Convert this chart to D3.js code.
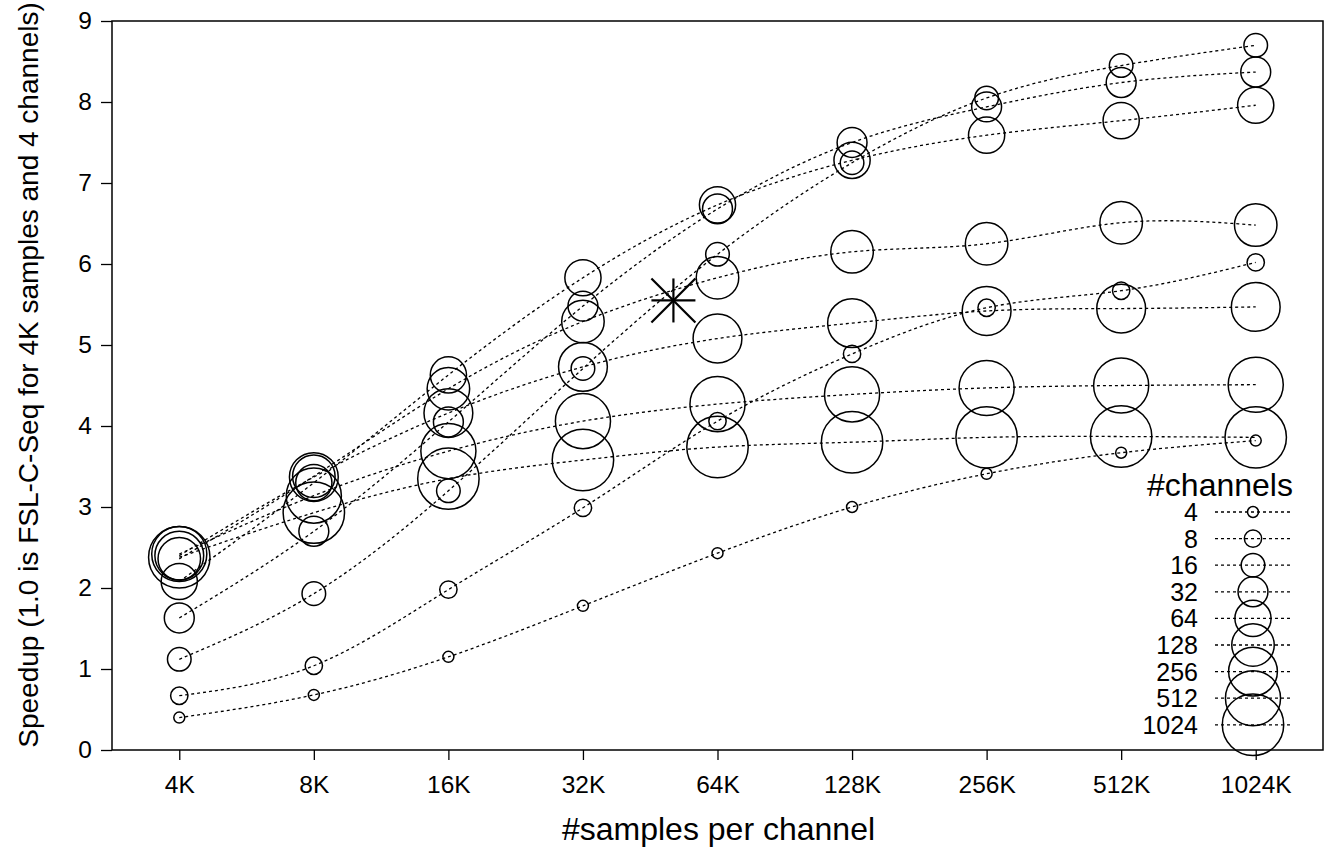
<!DOCTYPE html>
<head>
  <meta charset="utf-8">
  <title>Speedup vs samples per channel</title>
  <script src="https://d3js.org/d3.v7.min.js"></script>
  <style>
    body { margin:0; background:#fff; }
    svg { display:block; }
    text { font-family: "Liberation Sans", Arial, sans-serif; fill:#000; }
  </style>
</head>
<body>
  <svg width="1326" height="847"></svg>
  <script>
    // x categories (#samples per channel)
    var samples = ['4K', '8K', '16K', '32K', '64K', '128K', '256K', '512K', '1024K'];
    var channels = [4, 8, 16, 32, 64, 128, 256, 512, 1024];
    var yTicks = [0, 1, 2, 3, 4, 5, 6, 7, 8, 9];

    // speedup per series, one value per sample size
    var ch4    = [0.40, 0.68, 1.15, 1.78, 2.43, 3.00, 3.41, 3.67, 3.82];
    var ch8    = [0.67, 1.04, 1.98, 2.99, 4.06, 4.89, 5.46, 5.67, 6.02];
    var ch16   = [1.12, 1.93, 3.20, 4.71, 6.12, 7.25, 8.05, 8.45, 8.70];
    var ch32   = [1.63, 2.70, 4.05, 5.48, 6.68, 7.50, 7.94, 8.24, 8.37];
    var ch64   = [2.08, 3.30, 4.63, 5.83, 6.73, 7.28, 7.59, 7.77, 7.96];
    var ch128  = [2.36, 3.38, 4.46, 5.29, 5.83, 6.15, 6.25, 6.51, 6.48];
    var ch256  = [2.40, 3.37, 4.16, 4.73, 5.08, 5.27, 5.42, 5.45, 5.47];
    var ch512  = [2.42, 3.14, 3.69, 4.06, 4.27, 4.39, 4.47, 4.50, 4.51];
    var ch1024 = [2.38, 2.93, 3.35, 3.58, 3.74, 3.80, 3.86, 3.87, 3.86];
    var series = [ch4, ch8, ch16, ch32, ch64, ch128, ch256, ch512, ch1024];

    // the single star marker (samples in K, speedup)
    var starSamplesK = 51;
    var starSpeedup = 5.55;

    var box = {left: 112, right: 1323, top: 21, bottom: 750};
    var svg = d3.select('svg');

    // scales
    var xScale = d3.scaleLinear()
      .domain([-0.5, samples.length - 0.5])
      .range([box.left, box.right]);
    var yScale = d3.scaleLinear()
      .domain([0, 9])
      .range([box.bottom, box.top]);
    var rScale = d3.scaleLinear()
      .domain([2, 10]) // log2 of channel count
      .range([5.5, 30.7]);

    // lines
    var line = d3.line()
      .x(function(d, i) { return xScale(i); })
      .y(function(d) { return yScale(d); })
      .curve(d3.curveNatural);

    svg.append('g').selectAll('path')
      .data(series)
      .join('path')
      .attr('d', line)
      .attr('fill', 'none')
      .attr('stroke', '#000')
      .attr('stroke-width', 1.3)
      .attr('stroke-dasharray', '3,3');

    // circles
    series.forEach(function(vals, s) {
      svg.append('g').selectAll('circle')
        .data(vals)
        .join('circle')
        .attr('cx', function(d, i) { return xScale(i); })
        .attr('cy', function(d) { return yScale(d); })
        .attr('r', rScale(Math.log2(channels[s])))
        .attr('fill', 'none')
        .attr('stroke', '#000')
        .attr('stroke-width', 1.5);
    });

    // star
    var sx = xScale(Math.log2(starSamplesK / 4));
    var sy = yScale(starSpeedup);
    var star = svg.append('g').attr('stroke', '#000').attr('stroke-width', 2.2);
    [[0, 1], [1, 0], [1, 1], [1, -1]].forEach(function(d) {
      star.append('line')
        .attr('x1', sx - d[0] * 22).attr('y1', sy - d[1] * 22)
        .attr('x2', sx + d[0] * 22).attr('y2', sy + d[1] * 22);
    });

    // box
    svg.append('rect')
      .attr('x', box.left).attr('y', box.top)
      .attr('width', box.right - box.left).attr('height', box.bottom - box.top)
      .attr('fill', 'none').attr('stroke', '#000').attr('stroke-width', 1.5);

    // axes
    var xAxis = d3.axisBottom(xScale)
      .tickValues(d3.range(samples.length))
      .tickFormat(function(i) { return samples[i]; })
      .tickSize(10).tickSizeOuter(0).tickPadding(16);
    var gx = svg.append('g')
      .attr('transform', 'translate(' + [0, box.bottom] + ')')
      .call(xAxis);
    gx.select('.domain').remove();
    gx.selectAll('line').attr('stroke-width', 1.3);
    gx.selectAll('text').attr('font-size', 24.5).attr('font-family', null);

    var yAxis = d3.axisLeft(yScale)
      .tickValues(yTicks)
      .tickSize(11).tickSizeOuter(0).tickPadding(9);
    var gy = svg.append('g')
      .attr('transform', 'translate(' + [box.left, 0] + ')')
      .call(yAxis);
    gy.select('.domain').remove();
    gy.selectAll('line').attr('stroke-width', 1.3);
    gy.selectAll('text').attr('font-size', 24.5).attr('font-family', null);

    // axis titles
    svg.append('text')
      .attr('x', (box.left + box.right) / 2 + 1)
      .attr('y', 840)
      .attr('text-anchor', 'middle')
      .attr('font-size', 32)
      .text('#samples per channel');
    svg.append('text')
      .attr('transform', 'translate(38,375) rotate(-90)')
      .attr('text-anchor', 'middle')
      .attr('font-size', 28)
      .text('Speedup (1.0 is FSL-C-Seq for 4K samples and 4 channels)');

    // legend
    var legX = 1253, legY0 = 512, legStep = 26.6;
    var legend = svg.append('g');
    legend.append('text')
      .attr('x', 1220).attr('y', 496)
      .attr('text-anchor', 'middle')
      .attr('font-size', 32)
      .text('#channels');
    var items = legend.selectAll('g.item')
      .data(channels)
      .join('g')
      .attr('class', 'item')
      .attr('transform', function(d, i) { return 'translate(0,' + (legY0 + i * legStep) + ')'; });
    items.append('line')
      .attr('x1', 1215).attr('x2', 1292)
      .attr('stroke', '#000').attr('stroke-width', 1.3)
      .attr('stroke-dasharray', '3,3');
    items.append('circle')
      .attr('cx', legX)
      .attr('r', function(d) { return rScale(Math.log2(d)); })
      .attr('fill', 'none').attr('stroke', '#000').attr('stroke-width', 1.5);
    items.append('text')
      .attr('x', 1198).attr('dy', '0.36em')
      .attr('text-anchor', 'end')
      .attr('font-size', 25)
      .text(function(d) { return d; });
  </script>
</body>
